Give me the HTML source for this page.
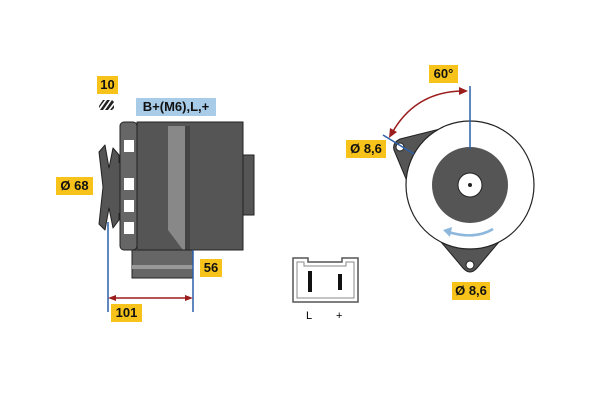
<!DOCTYPE html>
<html><head><style>
body{margin:0;background:#fff;}
.l{position:absolute;background:#f7c31a;font:bold 13px "Liberation Sans",sans-serif;color:#111;text-align:center;line-height:18px;}
</style></head><body>
<div style="position:relative;width:600px;height:400px;overflow:hidden">
<svg width="600" height="400" style="position:absolute;left:0;top:0">
<!-- left view -->
<path d="M99,152 L105,145 L109,168 L113,148 L119,155 L119,220 L113,228 L109,208 L105,230 L99,224 L103,187 Z" fill="#555" stroke="#222" stroke-linejoin="round"/>
<rect x="118" y="163" width="4" height="50" fill="#555"/>
<rect x="120" y="122" width="17" height="128" rx="4" fill="#666" stroke="#222"/>
<g fill="#fff"><rect x="124" y="140" width="10" height="12"/><rect x="124" y="178" width="10" height="12"/><rect x="124" y="200" width="10" height="12"/><rect x="124" y="222" width="10" height="12"/></g>
<rect x="137" y="122" width="106" height="128" fill="#555" stroke="#222"/>
<polygon points="168,126 185,126 185,250 183,250 168,230" fill="#888"/>
<rect x="185" y="126" width="5" height="124" fill="#444"/>
<rect x="243" y="155" width="11" height="60" fill="#555" stroke="#222"/>
<rect x="132" y="250" width="61" height="28" fill="#666" stroke="#222"/>
<rect x="132" y="265" width="61" height="4" fill="#999"/>
<line x1="108" y1="222" x2="108" y2="312" stroke="#2b5fa8" stroke-width="1.5"/>
<line x1="193" y1="250" x2="193" y2="312" stroke="#2b5fa8" stroke-width="1.5"/>
<line x1="112" y1="298" x2="189" y2="298" stroke="#9b1c1c" stroke-width="1.5"/>
<polygon points="108,298 116,295 116,301" fill="#9b1c1c"/><polygon points="193,298 185,295 185,301" fill="#9b1c1c"/>
<g fill="#222"><polygon points="100,110 107,100 110,100 103,110"/><polygon points="105,110 112,100 114,102 108,110"/><polygon points="110,110 114,105 114,108 112,110"/><polygon points="99,106 103,100 105,100 99,108"/></g>
<!-- connector -->
<path d="M293,258 H308 V262 H342 V258 H358 V302 H293 Z" fill="#fff" stroke="#555" stroke-width="1.5"/>
<path d="M297,262 H304 V266 H346 V262 H354 V298 H297 Z" fill="none" stroke="#888"/>
<rect x="308" y="271" width="4" height="21" fill="#111"/><rect x="338" y="274" width="4" height="16" fill="#111"/>
<text x="306" y="319" font-family="Liberation Sans" font-size="11">L</text>
<text x="336" y="319" font-family="Liberation Sans" font-size="11">+</text>
<!-- right view -->
<path d="M452,126 L400,139 Q392,143 394,150 L424,222 Z" fill="#555" stroke="#222" stroke-linejoin="round"/>
<path d="M436,236 L504,236 L477,268 Q470,276 463,268 Z" fill="#555" stroke="#222" stroke-linejoin="round"/>
<circle cx="470" cy="185" r="64" fill="#fff" stroke="#222" stroke-width="1.2"/>
<circle cx="470" cy="185" r="38" fill="#555"/>
<circle cx="470" cy="185" r="12" fill="#fff" stroke="#222"/>
<circle cx="470" cy="185" r="2" fill="#222"/>
<circle cx="400" cy="147" r="4" fill="#fff" stroke="#222"/>
<circle cx="470" cy="265" r="4" fill="#fff" stroke="#222"/>
<path d="M493,229 Q475,240 448,232" fill="none" stroke="#8db8dc" stroke-width="2.5"/>
<polygon points="443,230 452,227 450,237" fill="#8db8dc"/>
<line x1="470" y1="86" x2="470" y2="149" stroke="#2b5fa8" stroke-width="1.5"/>
<line x1="383" y1="135" x2="414" y2="154" stroke="#2b5fa8" stroke-width="1.5"/>
<path d="M462,91 Q415,92 392,133" fill="none" stroke="#9b1c1c" stroke-width="1.5"/>
<polygon points="468,91 459,87 459,95" fill="#9b1c1c"/><polygon points="389,138 390,128 397,132" fill="#9b1c1c"/>
</svg>
<div class="l" style="left:97px;top:76px;width:21px">10</div>
<div class="l" style="left:136px;top:98px;width:80px;background:#a8cbe8">B+(M6),L,+</div>
<div class="l" style="left:56px;top:177px;width:37px">Ø 68</div>
<div class="l" style="left:200px;top:259px;width:22px">56</div>
<div class="l" style="left:111px;top:304px;width:31px">101</div>
<div class="l" style="left:429px;top:65px;width:29px">60°</div>
<div class="l" style="left:346px;top:140px;width:40px">Ø 8,6</div>
<div class="l" style="left:452px;top:282px;width:38px">Ø 8,6</div>
</div>
</body></html>
